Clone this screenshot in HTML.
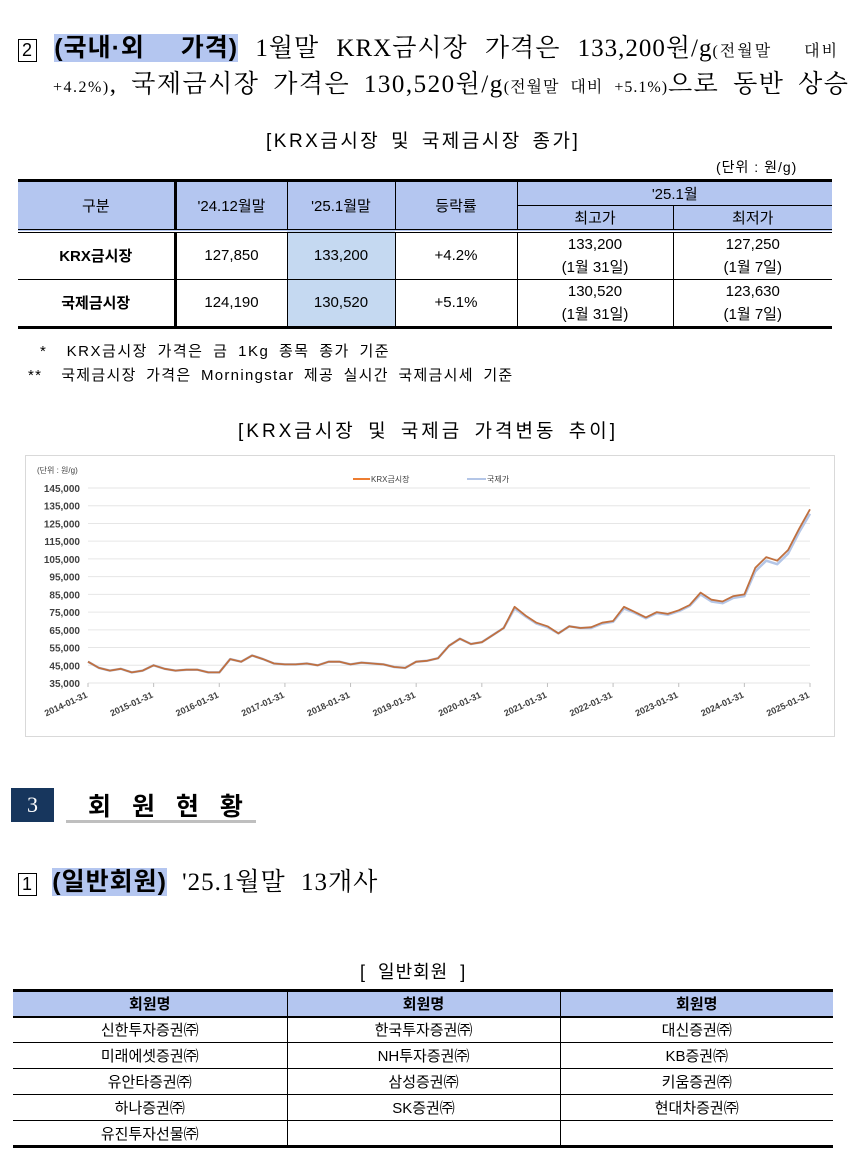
<!DOCTYPE html>
<html><head><meta charset="utf-8">
<style>
body{margin:0;width:862px;height:1153px;background:#fff;position:relative;overflow:hidden;font-family:"Liberation Sans","Noto Sans CJK KR",sans-serif;color:#000}
.abs{position:absolute;white-space:nowrap}
.serif{font-family:"Liberation Serif","Noto Serif CJK SC","Noto Sans CJK KR",serif}
.hl{background:#b4c6f0;font-weight:bold;font-family:"Liberation Sans","Noto Sans CJK KR",sans-serif}
.boxn{display:inline-block;border:1px solid #000;width:17px;height:21px;line-height:21px;text-align:center;font-size:18px;font-family:"Liberation Sans",sans-serif;vertical-align:middle}
table{border-collapse:collapse;position:absolute}
td{text-align:center;font-size:15px;padding:0}
</style></head><body>

<div class="abs serif" style="left:18px;top:28px;font-size:25px;letter-spacing:1px;word-spacing:10px">
<span class="boxn">2</span> <span class="hl">(국내·외&nbsp; 가격)</span> 1월말 KRX금시장 가격은 133,200원/g<span style="font-size:16px;letter-spacing:2px">(전월말&nbsp; 대비</span></div>
<div class="abs serif" style="left:53px;top:64px;font-size:25px;letter-spacing:1.5px;word-spacing:6px"><span style="font-size:16px">+4.2%)</span>, 국제금시장 가격은 130,520원/g<span style="font-size:16px;letter-spacing:1px">(전월말 대비 +5.1%)</span>으로 동반 상승</div>

<div class="abs" style="left:266px;top:126px;font-size:19px;letter-spacing:2.5px;word-spacing:3px">[KRX금시장 및 국제금시장 종가]</div>
<div class="abs" style="left:716px;top:157px;font-size:14px;letter-spacing:1px">(단위 : 원/g)</div>

<table style="left:18px;top:179px;width:814px;border-top:3px solid #000;border-bottom:3px solid #000">
<colgroup><col style="width:157px"><col style="width:112px"><col style="width:108px"><col style="width:122px"><col style="width:156px"><col style="width:159px"></colgroup>
<tr style="height:25px;background:#b4c6f0">
<td rowspan="2" style="border-right:3px solid #000;border-bottom:4px double #000">구분</td>
<td rowspan="2" style="border-right:1px solid #000;border-bottom:4px double #000">'24.12월말</td>
<td rowspan="2" style="border-right:1px solid #000;border-bottom:4px double #000">'25.1월말</td>
<td rowspan="2" style="border-right:1px solid #000;border-bottom:4px double #000">등락률</td>
<td colspan="2" style="border-bottom:1px solid #000">'25.1월</td></tr>
<tr style="height:25px;background:#b4c6f0"><td style="border-right:1px solid #000;border-bottom:4px double #000">최고가</td><td style="border-bottom:4px double #000">최저가</td></tr>
<tr style="height:47px;border-bottom:1px solid #000"><td style="border-right:3px solid #000;font-weight:bold">KRX금시장</td><td style="border-right:1px solid #000">127,850</td><td style="border-right:1px solid #000;background:#c5d9f1">133,200</td><td style="border-right:1px solid #000">+4.2%</td><td style="border-right:1px solid #000;line-height:23px">133,200<br>(1월 31일)</td><td style="line-height:23px">127,250<br>(1월 7일)</td></tr>
<tr style="height:47px"><td style="border-right:3px solid #000;font-weight:bold">국제금시장</td><td style="border-right:1px solid #000">124,190</td><td style="border-right:1px solid #000;background:#c5d9f1">130,520</td><td style="border-right:1px solid #000">+5.1%</td><td style="border-right:1px solid #000;line-height:23px">130,520<br>(1월 31일)</td><td style="line-height:23px">123,630<br>(1월 7일)</td></tr>
</table>

<div class="abs" style="left:40px;top:340px;font-size:15px;letter-spacing:1.5px;word-spacing:4px">*&nbsp; KRX금시장 가격은 금 1Kg 종목 종가 기준</div>
<div class="abs" style="left:28px;top:364px;font-size:15px;letter-spacing:1.3px;word-spacing:4px">**&nbsp; 국제금시장 가격은 Morningstar 제공 실시간 국제금시세 기준</div>

<div class="abs" style="left:238px;top:416px;font-size:19px;letter-spacing:3px;word-spacing:4px">[KRX금시장 및 국제금 가격변동 추이]</div>

<svg class="abs" style="left:25px;top:455px" width="810" height="282" id="chart"></svg>

<div class="abs" style="left:11px;top:788px;width:43px;height:34px;background:#17365d;color:#fff;font-size:22px;text-align:center;line-height:34px;font-family:'Liberation Serif',serif">3</div>
<div class="abs" style="left:88px;top:787px;font-size:25px;font-weight:bold;letter-spacing:7px">회 원 현 황</div>
<div class="abs" style="left:66px;top:820px;width:190px;height:3px;background:#bfbfbf"></div>

<div class="abs serif" style="left:18px;top:862px;font-size:25px;letter-spacing:1px;word-spacing:8px"><span class="boxn">1</span> <span class="hl">(일반회원)</span> '25.1월말 13개사</div>

<div class="abs" style="left:360px;top:958px;font-size:18px;letter-spacing:1px">[&nbsp; 일반회원&nbsp; ]</div>

<table style="left:13px;top:989px;width:820px;border-top:3px solid #000;border-bottom:3px solid #000">
<colgroup><col style="width:274px"><col style="width:273px"><col style="width:273px"></colgroup>
<tr style="height:26px;background:#b4c6f0;border-bottom:2px solid #000;font-weight:bold"><td style="border-right:1px solid #000;font-weight:bold">회원명</td><td style="border-right:1px solid #000;font-weight:bold">회원명</td><td style="font-weight:bold">회원명</td></tr>
<tr style="height:26px;border-bottom:1px solid #000"><td style="border-right:1px solid #000">신한투자증권㈜</td><td style="border-right:1px solid #000">한국투자증권㈜</td><td>대신증권㈜</td></tr>
<tr style="height:26px;border-bottom:1px solid #000"><td style="border-right:1px solid #000">미래에셋증권㈜</td><td style="border-right:1px solid #000">NH투자증권㈜</td><td>KB증권㈜</td></tr>
<tr style="height:26px;border-bottom:1px solid #000"><td style="border-right:1px solid #000">유안타증권㈜</td><td style="border-right:1px solid #000">삼성증권㈜</td><td>키움증권㈜</td></tr>
<tr style="height:26px;border-bottom:1px solid #000"><td style="border-right:1px solid #000">하나증권㈜</td><td style="border-right:1px solid #000">SK증권㈜</td><td>현대차증권㈜</td></tr>
<tr style="height:26px"><td style="border-right:1px solid #000">유진투자선물㈜</td><td style="border-right:1px solid #000"></td><td></td></tr>
</table>

<script>
// Bi-monthly values (thousand KRW/g), 2014-01 .. 2025-01
const dates = ["2014-01","2014-03","2014-05","2014-07","2014-09","2014-11","2015-01","2015-03","2015-05","2015-07","2015-09","2015-11","2016-01","2016-03","2016-05","2016-07","2016-09","2016-11","2017-01","2017-03","2017-05","2017-07","2017-09","2017-11","2018-01","2018-03","2018-05","2018-07","2018-09","2018-11","2019-01","2019-03","2019-05","2019-07","2019-09","2019-11","2020-01","2020-03","2020-05","2020-07","2020-09","2020-11","2021-01","2021-03","2021-05","2021-07","2021-09","2021-11","2022-01","2022-03","2022-05","2022-07","2022-09","2022-11","2023-01","2023-03","2023-05","2023-07","2023-09","2023-11","2024-01","2024-03","2024-05","2024-07","2024-09","2024-11","2025-01"];
const krx = [47,43.5,42,43,41,42,45,43,42,42.5,42.5,41,41,48.5,47,50.5,48.5,46,45.5,45.5,46,45,47,47,45.5,46.5,46,45.5,44,43.5,47,47.5,49,56,60,57,58,62,66,78,73,69,67,63,67,66,66.5,69,70,78,75,72,75,74,76,79,86,82,81,84,85,100,106,104,110,122,133];
const intl = [47,43.5,42,43,41,42,45,43,42,42.5,42.5,41,41,48.5,47,50.5,48.5,46,45.5,45.5,46,45,47,47,45.5,46.5,46,45.5,44,43.5,47,47.5,49,56,60,57,58,62,66,77,72.5,68.5,66.5,63,67,66,66,68.5,69.5,77,74.5,71.5,74.5,73.5,75.5,78.5,85,81,80,83,84,98,104,102,108,120,130.5];
const yTicks = [35000,45000,55000,65000,75000,85000,95000,105000,115000,125000,135000,145000];
const xTicks = ["2014-01-31","2015-01-31","2016-01-31","2017-01-31","2018-01-31","2019-01-31","2020-01-31","2021-01-31","2022-01-31","2023-01-31","2024-01-31","2025-01-31"];

const svg = document.getElementById('chart');
const NS = 'http://www.w3.org/2000/svg';
const X0 = 63, X1 = 785, Y0 = 228, Y1 = 33;
function t(d){const [y,m]=d.split('-').map(Number);return (y-2014)+(m-1)/12;}
function xs(v){return X0+(v/11)*(X1-X0);}
function ys(v){return Y0-(v-35000)/(145000-35000)*(Y0-Y1);}
function mk(tag,attrs){const e=document.createElementNS(NS,tag);for(const k in attrs)e.setAttribute(k,attrs[k]);svg.appendChild(e);return e;}

const frame = mk('rect',{x:0.5,y:0.5,width:809,height:281,fill:'#fff',stroke:'#d9d9d9'});



yTicks.forEach(v=>{
  const g = mk('line',{x1:X0,x2:X1,y1:ys(v),y2:ys(v),stroke:'#e6e6e6','stroke-width':1});
  
  
  const l = mk('text',{x:X0-8,y:ys(v)+4,'text-anchor':'end','font-size':10,'font-weight':'bold',fill:'#404040','font-family':'Liberation Sans, sans-serif'});
  l.textContent = v.toLocaleString('en-US');
  
  
});
xTicks.forEach((d,i)=>{
  const x = xs(i);
  const tk = mk('line',{x1:x,x2:x,y1:Y0,y2:Y0+4,stroke:'#bfbfbf'});
  
  
  const l = mk('text',{x:x,y:Y0+14,'text-anchor':'end','font-size':9,'font-weight':'bold',fill:'#404040','font-family':'Liberation Sans, sans-serif',transform:`rotate(-25 ${x} ${Y0+14})`});
  l.textContent = d;
  
  
});
const unit = mk('text',{x:12,y:18,'font-size':8,fill:'#404040','font-family':'Liberation Sans, Noto Sans CJK KR, sans-serif'});
unit.textContent='(단위 : 원/g)';



function path(arr,color,w,name){
  const d = arr.map((v,i)=>(i?'L':'M')+xs(t(dates[i])).toFixed(1)+' '+ys(v*1000).toFixed(1)).join(' ');
  const p = mk('path',{d:d,fill:'none',stroke:color,'stroke-width':w,'stroke-linejoin':'round'});
  
  
}
path(intl,'#b4c6e7',2.5,'intl-price-line');
path(krx,'#c0703f',1.8,'krx-price-line');

const l1 = mk('line',{x1:328,x2:345,y1:24,y2:24,stroke:'#ed7d31','stroke-width':2});


const t1 = mk('text',{x:346,y:27,'font-size':8,fill:'#404040','font-family':'Liberation Sans, Noto Sans CJK KR, sans-serif'});
t1.textContent='KRX금시장';


const l2 = mk('line',{x1:442,x2:461,y1:24,y2:24,stroke:'#b4c6e7','stroke-width':2});


const t2 = mk('text',{x:462,y:27,'font-size':8,fill:'#404040','font-family':'Liberation Sans, Noto Sans CJK KR, sans-serif'});
t2.textContent='국제가';


</script>
</body></html>
